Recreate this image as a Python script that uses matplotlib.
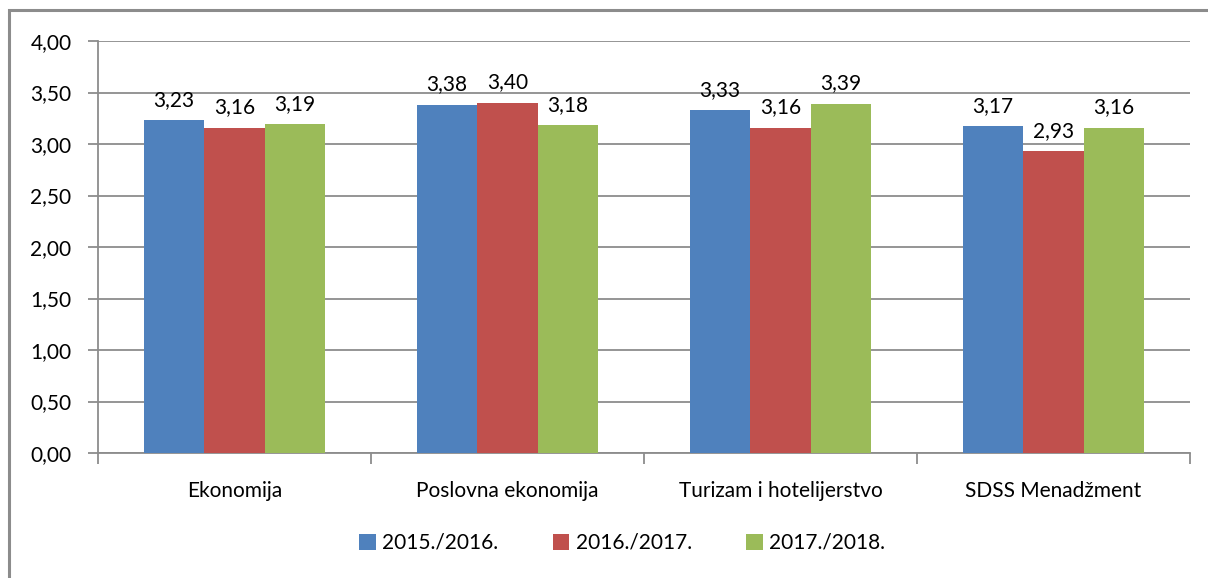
import numpy as np
import matplotlib.pyplot as plt
from matplotlib.patches import Rectangle

plt.rcParams['font.family'] = ['Lato', 'DejaVu Sans']

# podaci
kategorije = ['Ekonomija', 'Poslovna ekonomija', 'Turizam i hotelijerstvo', 'SDSS Menadžment']
godine = ['2015./2016.', '2016./2017.', '2017./2018.']
v_2015 = [3.23, 3.38, 3.33, 3.17]
v_2016 = [3.16, 3.40, 3.16, 2.93]
v_2017 = [3.19, 3.18, 3.39, 3.16]
y_ticks = [0.0, 0.5, 1.0, 1.5, 2.0, 2.5, 3.0, 3.5, 4.0]

boje = ['#4f81bd', '#c0504d', '#9bbb59']
grid_c = '#8c8c8c'
fs = 15

fig = plt.figure(figsize=(12.08, 5.78), dpi=100)
ax = fig.add_axes([98 / 1208, 1 - 453 / 578, (1190 - 98) / 1208, (453 - 41) / 578])

# okvir oko cijelog grafikona (desni i donji rub su izvan slike)
fig.patches.append(Rectangle((9 / 1208, -0.1), 1.2, 1 - 10 / 578 + 0.1,
                             transform=fig.transFigure, fill=False,
                             edgecolor=grid_c, linewidth=2.2))

x = np.arange(len(kategorije))
w = 0.222
for i, (vals, lab) in enumerate(zip([v_2015, v_2016, v_2017], godine)):
    bars = ax.bar(x + (i - 1) * w, vals, w, color=boje[i], label=lab, zorder=3)
    for b, v in zip(bars, vals):
        ax.text(b.get_x() + b.get_width() / 2, v + 0.1, f'{v:.2f}'.replace('.', ','),
                ha='center', va='bottom', fontsize=fs, zorder=4)

ax.set_xlim(-0.5, len(kategorije) - 0.5)
ax.set_ylim(0, 4)
ax.set_yticks(y_ticks)
ax.set_yticklabels([f'{t:.2f}'.replace('.', ',') for t in y_ticks], fontsize=fs)
ax.yaxis.grid(True, color=grid_c, linewidth=1.3, zorder=0)

# oznake kategorija bez crtica, crtice na granicama
ax.set_xticks(x)
ax.set_xticklabels(kategorije, fontsize=fs)
ax.tick_params(axis='x', length=0, pad=20)
ax.set_xticks(np.arange(len(kategorije) + 1) - 0.5, minor=True)
ax.tick_params(axis='x', which='minor', length=8, width=1.3, color=grid_c, direction='out')
ax.tick_params(axis='y', length=7, width=1.3, color=grid_c, pad=12)

for s in ['top', 'right']:
    ax.spines[s].set_visible(False)
for s in ['left', 'bottom']:
    ax.spines[s].set_color(grid_c)
    ax.spines[s].set_linewidth(1.3)

ax.legend(loc='center', bbox_to_anchor=(0.48, -0.218), ncol=3, frameon=False,
          fontsize=fs, handlelength=0.8, handleheight=0.8, handletextpad=0.3,
          columnspacing=2.6)

fig.savefig('out.png', dpi=100)
